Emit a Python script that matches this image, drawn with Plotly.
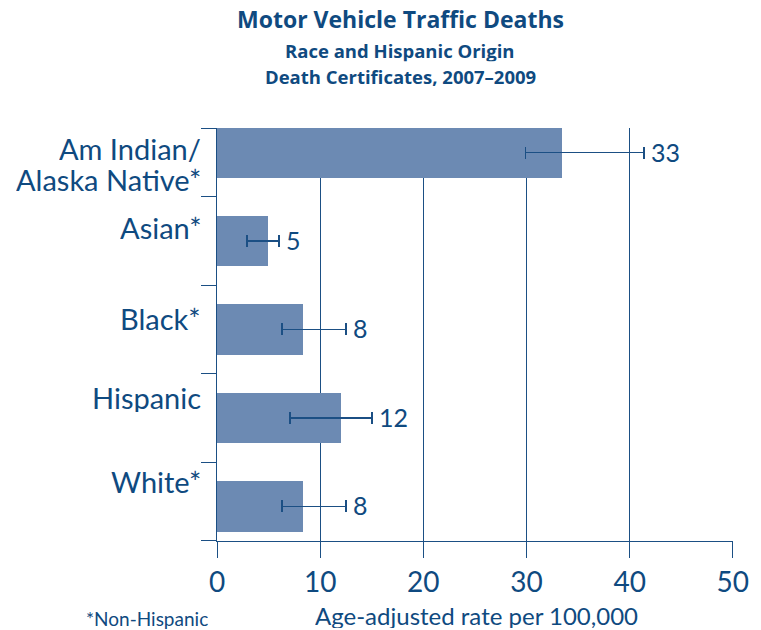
import plotly.graph_objects as go

# ---- data ----
categories = ["Am Indian/\nAlaska Native*", "Asian*", "Black*", "Hispanic", "White*"]
rates = [33.4, 4.9, 8.35, 12.05, 8.35]
ci_low = [29.9, 2.9, 6.3, 7.1, 6.3]
ci_high = [41.4, 6.0, 12.5, 15.0, 12.5]
x_ticks = [0, 10, 20, 30, 40, 50]
title_lines = ["Motor Vehicle Traffic Deaths", "Race and Hispanic Origin", "Death Certificates, 2007\u20132009"]
x_title = "Age-adjusted rate per 100,000"
footnote = "*Non-Hispanic"

# ---- style ----
FONT = "Lato"
TITLE_FONT = "Open Sans"
TEXT = "#0f4a80"
LINE = "#1b4f84"
BAR = "#6c8ab3"
label_shifts = [[5, -26], [14], [11], [21], [25]]  # px vertical tweaks per label line
Y_TOP, Y_BOT = -0.277, 4.392

ypos = list(range(len(categories)))

fig = go.Figure()
fig.add_trace(go.Bar(
    x=rates, y=ypos, orientation="h", width=0.571,
    marker=dict(color=BAR, line=dict(width=0)),
    error_x=dict(type="data", symmetric=False,
                 array=[h - v for h, v in zip(ci_high, rates)],
                 arrayminus=[v - l for v, l in zip(rates, ci_low)],
                 color=LINE, thickness=1.6, width=6),
    hoverinfo="skip", showlegend=False,
))

annotations = []
# category labels
for i, (cat, shifts) in enumerate(zip(categories, label_shifts)):
    for line, sh in zip(cat.split("\n"), shifts):
        annotations.append(dict(
            x=0, xref="paper", y=i, yref="y", text=line, showarrow=False,
            xanchor="right", yanchor="middle", xshift=-14, yshift=sh, height=30,
            font=dict(family=FONT, size=29, color=TEXT)))
# value labels
for i, (v, h) in enumerate(zip(rates, ci_high)):
    annotations.append(dict(
        x=h, xref="x", y=i, yref="y", text=str(round(v)), showarrow=False,
        xanchor="left", yanchor="middle", xshift=5, yshift=1,
        font=dict(family=FONT, size=25, color=TEXT)))
# titles
for txt, yy, sz in zip(title_lines, [1.264, 1.188, 1.124], [23, 18.5, 18.5]):
    annotations.append(dict(
        x=0.3556, xref="paper", y=yy, yref="paper", text="<b>" + txt + "</b>",
        showarrow=False, xanchor="center", yanchor="middle", height=sz * 1.15,
        font=dict(family=TITLE_FONT, size=sz, color=TEXT)))
# axis title and footnote
annotations.append(dict(x=0.502, xref="paper", y=-0.180, yref="paper", text=x_title,
                        showarrow=False, xanchor="center", yanchor="middle", height=26,
                        font=dict(family=FONT, size=24, color=TEXT)))
annotations.append(dict(x=-0.258, xref="paper", y=-0.188, yref="paper", text=footnote,
                        showarrow=False, xanchor="left", yanchor="middle", height=21,
                        font=dict(family=FONT, size=19, color=TEXT)))

fig.update_layout(
    width=761, height=630,
    margin=dict(l=217, r=28, t=128, b=89),
    paper_bgcolor="white", plot_bgcolor="white",
    annotations=annotations,
    bargap=0,
)
fig.update_xaxes(
    range=[0, 50.02], tickvals=x_ticks, ticks="outside", ticklen=16, tickwidth=1.4,
    tickcolor=LINE, showgrid=True, gridcolor=LINE, gridwidth=1.4,
    showline=True, linecolor=LINE, linewidth=1.4, zeroline=False,
    tickfont=dict(family=FONT, size=28, color=TEXT), fixedrange=True,
)
fig.update_yaxes(
    range=[Y_BOT, Y_TOP],
    tickvals=[Y_TOP + 0.002, 0.5, 1.5, 2.5, 3.5, Y_BOT - 0.002],
    showticklabels=False, ticks="outside", ticklen=15, tickwidth=1.4, tickcolor=LINE,
    showgrid=False, showline=True, linecolor=LINE, linewidth=1.4, zeroline=False,
    fixedrange=True,
)

fig.write_html("out.html", config={"displayModeBar": False},
               post_script="document.body.style.margin='0';document.body.style.overflow='hidden';")
